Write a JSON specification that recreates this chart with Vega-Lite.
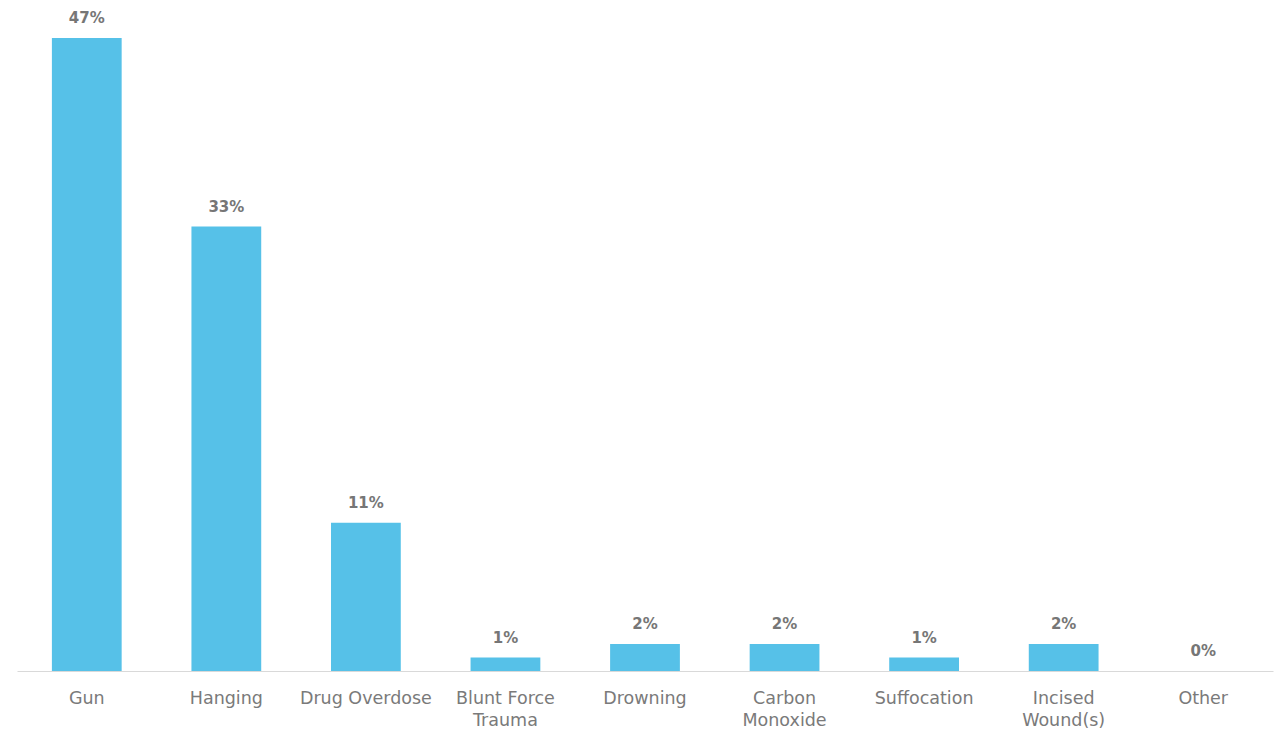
{
  "$schema": "https://vega.github.io/schema/vega-lite/v6.json",
  "autosize": {"type": "none"},
  "width": 1256,
  "height": 633,
  "padding": {"left": 17, "top": 38, "right": 1, "bottom": 58},
  "background": "white",
  "config": {"view": {"stroke": null}, "font": "DejaVu Sans"},
  "data": {
    "values": [
      {"cause": "Gun", "share": 0.47},
      {"cause": "Hanging", "share": 0.33},
      {"cause": "Drug Overdose", "share": 0.11},
      {"cause": "Blunt Force Trauma", "share": 0.01},
      {"cause": "Drowning", "share": 0.02},
      {"cause": "Carbon Monoxide", "share": 0.02},
      {"cause": "Suffocation", "share": 0.01},
      {"cause": "Incised Wound(s)", "share": 0.02},
      {"cause": "Other", "share": 0}
    ]
  },
  "encoding": {
    "x": {
      "field": "cause",
      "type": "nominal",
      "sort": null,
      "scale": {"paddingInner": 0.5, "paddingOuter": 0.25},
      "axis": {
        "title": null,
        "labelAngle": 0,
        "ticks": false,
        "domainColor": "#d9d9d9",
        "domainWidth": 1,
        "labelFont": "DejaVu Sans",
        "labelFontSize": 17.5,
        "labelColor": "#7a7a7a",
        "labelPadding": 27,
        "labelLineHeight": 22,
        "labelBaseline": "middle",
        "labelExpr": "datum.value == 'Blunt Force Trauma' ? ['Blunt Force', 'Trauma'] : datum.value == 'Carbon Monoxide' ? ['Carbon', 'Monoxide'] : datum.value == 'Incised Wound(s)' ? ['Incised', 'Wound(s)'] : datum.value"
      }
    },
    "y": {
      "field": "share",
      "type": "quantitative",
      "scale": {"domain": [0, 0.47], "nice": false},
      "axis": null
    }
  },
  "layer": [
    {"mark": {"type": "bar", "color": "#56C1E8"}},
    {
      "mark": {"type": "text", "baseline": "bottom", "dy": -12, "fontSize": 15, "fontWeight": "bold", "color": "#767676", "font": "DejaVu Sans"},
      "encoding": {"text": {"field": "share", "type": "quantitative", "format": ".0%"}}
    }
  ]
}
